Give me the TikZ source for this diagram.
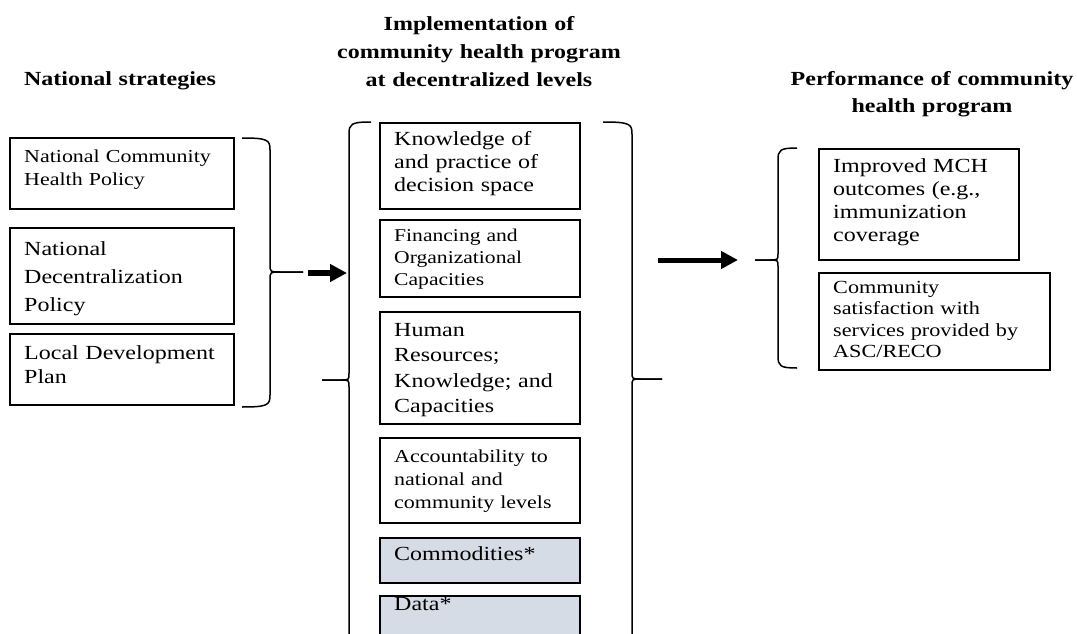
\documentclass[tikz,border=0pt]{standalone}
\usepackage{fontspec}
\setmainfont{Liberation Serif}[FakeStretch=1.2]
\usetikzlibrary{arrows.meta}
\definecolor{boxgray}{RGB}{214,220,229}
\tikzset{
  frame/.style={draw=black, line width=1.6pt, anchor=north west, inner sep=0pt},
  txt/.style={anchor=base west, inner sep=0pt, text width=260pt, align=left},
  ttl/.style={anchor=base, inner sep=0pt, text width=330pt, align=center},
  brace/.style={line width=1.5pt, line join=round},
  bigarrow/.style={line width=5.5pt, -{Triangle[length=17pt,width=17pt]}}
}
\begin{document}
\begin{tikzpicture}[x=1pt,y=1pt]
\useasboundingbox (0,0) rectangle (1077,-634);
\clip (0,0) rectangle (1077,-634);

% titles
\node[ttl, font=\fontsize{20}{27.5}\selectfont\bfseries] (t1) at (120,-85) {National strategies};
\node[ttl, font=\fontsize{20}{27.5}\selectfont\bfseries] (t2) at (479,-31) {Implementation of\\community health program\\at decentralized levels};
\node[ttl, font=\fontsize{20}{28}\selectfont\bfseries] (t3) at (932,-85) {Performance of community\\health program};

% left boxes
\node[frame, minimum width=224pt, minimum height=71pt] (ncp) at (9,-137) {};
\node[frame, minimum width=224pt, minimum height=96pt] (ndp) at (9,-227) {};
\node[frame, minimum width=224pt, minimum height=71pt] (ldp) at (9,-333) {};
\node[txt, font=\fontsize{18.3}{23}\selectfont] (ncpt) at (24,-162) {National Community\\Health Policy};
\node[txt, font=\fontsize{20}{28}\selectfont] (ndpt) at (24,-255) {National\\Decentralization\\Policy};
\node[txt, font=\fontsize{20}{24}\selectfont] (ldpt) at (24,-359) {Local Development\\Plan};

% middle boxes
\node[frame, minimum width=200pt, minimum height=86pt] (know) at (379,-122) {};
\node[frame, minimum width=200pt, minimum height=77pt] (fin) at (379,-219) {};
\node[frame, minimum width=200pt, minimum height=112pt] (hr) at (379,-311) {};
\node[frame, minimum width=200pt, minimum height=85pt] (acc) at (379,-437) {};
\node[frame, fill=boxgray, minimum width=200pt, minimum height=45pt] (com) at (379,-537) {};
\node[frame, fill=boxgray, minimum width=200pt, minimum height=70pt] (dat) at (379,-595) {};
\node[txt, font=\fontsize{20}{23.5}\selectfont] (knowt) at (394,-145) {Knowledge of\\and practice of\\decision space};
\node[txt, font=\fontsize{18}{22}\selectfont] (fint) at (394,-241) {Financing and\\Organizational\\Capacities};
\node[txt, font=\fontsize{20}{25.5}\selectfont] (hrt) at (394,-336) {Human\\Resources;\\Knowledge; and\\Capacities};
\node[txt, font=\fontsize{18.3}{23}\selectfont] (acct) at (394,-462) {Accountability to\\national and\\community levels};
\node[txt, font=\fontsize{20}{24}\selectfont] (comt) at (394,-560) {Commodities*};
\node[txt, font=\fontsize{20}{24}\selectfont] (datt) at (394,-610) {Data*};

% right boxes
\node[frame, minimum width=200pt, minimum height=111pt] (imp) at (818,-148) {};
\node[frame, minimum width=231pt, minimum height=97pt] (sat) at (818,-272) {};
\node[txt, font=\fontsize{20}{23}\selectfont] (impt) at (833,-172) {Improved MCH\\outcomes (e.g.,\\immunization\\coverage};
\node[txt, font=\fontsize{18.5}{21.5}\selectfont] (satt) at (833,-293) {Community\\satisfaction with\\services provided by\\ASC/RECO};

% braces
\draw[brace] (242,-138) .. controls (268,-138) and (270,-140) .. (270,-150) -- (270,-264) .. controls (270,-272) .. (280,-272) -- (303,-272);
\draw[brace] (303,-272) -- (280,-272) .. controls (270,-272) .. (270,-280) -- (270,-395) .. controls (270,-405) and (268,-407) .. (242,-407);

\draw[brace] (371,-122) .. controls (351,-122) and (349,-124) .. (349,-134) -- (349,-373) .. controls (349,-380) .. (341,-380) -- (322,-380);
\draw[brace] (322,-380) -- (341,-380) .. controls (349,-380) .. (349,-387) -- (349,-700);

\draw[brace] (603,-122) .. controls (630,-122) and (632,-124) .. (632,-134) -- (632,-372) .. controls (632,-379) .. (641,-379) -- (662,-379);
\draw[brace] (662,-379) -- (641,-379) .. controls (632,-379) .. (632,-386) -- (632,-700);

\draw[brace] (797,-148) .. controls (780,-148) and (778,-150) .. (778,-160) -- (778,-253) .. controls (778,-260) .. (770,-260) -- (755,-260);
\draw[brace] (755,-260) -- (770,-260) .. controls (778,-260) .. (778,-267) -- (778,-356) .. controls (778,-366) and (780,-368) .. (797,-368);

% arrows
\coordinate (a1s) at (308,-273);
\coordinate (a1e) at (347,-273);
\coordinate (a2s) at (658,-260);
\coordinate (a2e) at (738,-260);
\draw[bigarrow] (a1s) -- (a1e);
\draw[bigarrow, line width=5pt] (a2s) -- (a2e);
\end{tikzpicture}
\end{document}
